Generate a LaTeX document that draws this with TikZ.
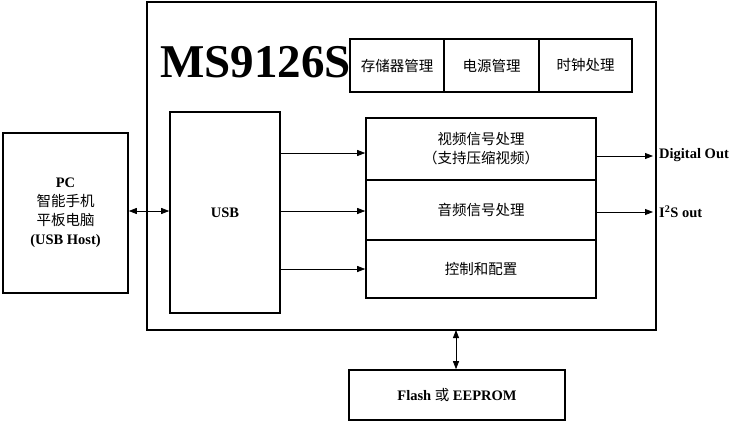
\documentclass[tikz,border=0pt]{standalone}
\usepackage{fontspec}
\setmainfont{Liberation Serif}
\newfontfamily\cjk{Noto Sans CJK SC}
\usetikzlibrary{arrows.meta}
\begin{document}
\begin{tikzpicture}[x=1pt,y=-1pt,
  bx/.style={draw,line width=1.6pt},
  ar/.style={-{Triangle[length=8pt,width=6pt]},line width=0.8pt},
  dar/.style={{Triangle[length=8pt,width=6pt]}-{Triangle[length=8pt,width=6pt]},line width=0.8pt},
  lb/.style={font=\fontsize{14.5}{18}\selectfont\bfseries,align=center},
  zh/.style={font=\fontsize{14.5}{19}\selectfont\cjk,align=center}]
\useasboundingbox (0,0) rectangle (746,423);
\draw[bx] (147,2) rectangle (656,330);
\node[font=\fontsize{47}{47}\selectfont\bfseries,anchor=west,inner sep=0pt] (title) at (160,62) {MS9126S};
\node[bx,minimum width=94pt,minimum height=53pt,zh] (m1) at (397,65.5) {存储器管理};
\node[bx,minimum width=95pt,minimum height=53pt,zh] (m2) at (491.5,65.5) {电源管理};
\node[bx,minimum width=93pt,minimum height=53pt,zh] (m3) at (585.5,65.5) {时钟处理};
\node[bx,minimum width=125pt,minimum height=160pt] (pc) at (65.5,213) {};
\node[zh] at (65.5,213) {{\bfseries\rmfamily PC}\\智能手机\\平板电脑\\{\bfseries\rmfamily (USB Host)}};
\node[bx,minimum width=110pt,minimum height=201pt,lb] (usb) at (225,212.5) {USB};
\node[bx,minimum width=230pt,minimum height=62pt,zh] (v) at (481,149) {视频信号处理\\（支持压缩视频）};
\node[bx,minimum width=230pt,minimum height=60pt,zh] (a) at (481,210) {音频信号处理};
\node[bx,minimum width=230pt,minimum height=58pt,zh] (c) at (481,269) {控制和配置};
\node[bx,minimum width=216pt,minimum height=50pt] (fl) at (457,395) {};
\node[lb] at (457,395) {Flash {\cjk\mdseries 或} EEPROM};
\coordinate (chipb) at (456,330);
\draw[dar] (pc.east |- 0,211) -- (usb.west |- 0,211);
\draw[ar] (usb.east |- 0,153) -- (v.west |- 0,153);
\draw[ar] (usb.east |- 0,211) -- (a.west |- 0,211);
\draw[ar] (usb.east |- 0,269) -- (c.west |- 0,269);
\coordinate (o1) at (653,156);
\coordinate (o2) at (653,212);
\draw[ar] (v.east |- o1) -- (o1);
\draw[ar] (a.east |- o2) -- (o2);
\node[lb,anchor=west,inner sep=1pt] at (658,155) {Digital Out};
\node[lb,anchor=west,inner sep=1pt] at (658,212) {I\textsuperscript{2}S out};
\draw[dar] (chipb) -- (fl.north -| chipb);
\end{tikzpicture}
\end{document}
